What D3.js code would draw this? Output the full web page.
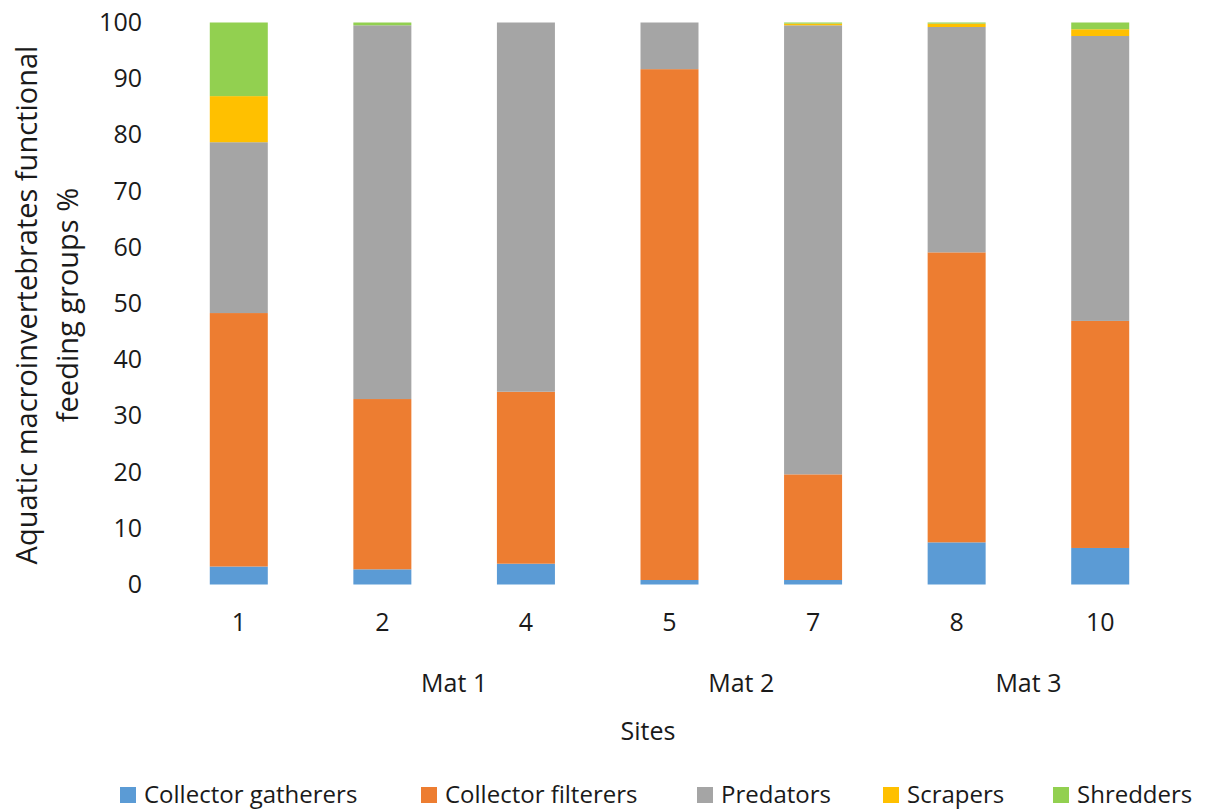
<!DOCTYPE html>
<html>
<head>
<meta charset="utf-8">
<script src="https://cdn.jsdelivr.net/npm/d3@7"></script>
<style>
  html, body { margin: 0; padding: 0; background: #fff; }
  svg { display: block; font-family: "Open Sans", "Noto Sans", sans-serif; }
</style>
</head>
<body>
<svg id="chart" width="1215" height="811"></svg>
<script>
// Sites along the x axis and the mat each site belongs to
const sites = ["1", "2", "4", "5", "7", "8", "10"];
const mats = [
  { name: "Mat 1", sites: ["2", "4"] },
  { name: "Mat 2", sites: ["5", "7"] },
  { name: "Mat 3", sites: ["8", "10"] }
];

// Functional feeding group shares (%) per site
const groups = ["Collector gatherers", "Collector filterers", "Predators", "Scrapers", "Shredders"];
const collectorGatherers = [3.2, 2.7, 3.7, 0.8, 0.8, 7.5, 6.5];
const collectorFilterers = [45.1, 30.3, 30.6, 90.9, 18.8, 51.6, 40.4];
const predators         = [30.4, 66.5, 65.7, 8.3, 79.9, 40.1, 50.7];
const scrapers          = [8.2, 0.0, 0.0, 0.0, 0.3, 0.6, 1.2];
const shredders         = [13.1, 0.5, 0.0, 0.0, 0.2, 0.2, 1.2];
const colors = ["#5B9BD5", "#ED7D31", "#A5A5A5", "#FFC000", "#92D050"];

const yTicks = [0, 10, 20, 30, 40, 50, 60, 70, 80, 90, 100];

const series = [collectorGatherers, collectorFilterers, predators, scrapers, shredders];
const rows = sites.map((s, i) => {
  const r = { site: s };
  groups.forEach((g, k) => { r[g] = series[k][i]; });
  return r;
});

const svg = d3.select("#chart");
const plot = { left: 167, right: 1172, top: 22.5, bottom: 584.5 };
const textColor = "#1a1a1a";

const x = d3.scaleBand().domain(sites).range([plot.left, plot.right]).paddingInner(0.596).paddingOuter(0.298);
const y = d3.scaleLinear().domain([0, 100]).range([plot.bottom, plot.top]);

const stack = d3.stack().keys(groups)(rows);

svg.append("g").selectAll("g")
  .data(stack)
  .join("g")
  .attr("fill", (d, i) => colors[i])
  .selectAll("rect")
  .data(d => d)
  .join("rect")
  .attr("x", d => x(d.data.site))
  .attr("width", x.bandwidth())
  .attr("y", d => y(d[1]))
  .attr("height", d => Math.max(0, y(d[0]) - y(d[1])));

// y axis: labels only
const yAxis = d3.axisLeft(y).tickValues(yTicks).tickSize(0).tickPadding(0);
const yg = svg.append("g").attr("transform", `translate(142,0)`).call(yAxis);
yg.select(".domain").remove();
yg.selectAll("text").attr("font-size", 25).attr("fill", textColor).attr("font-family", "Open Sans");

// x axis: site labels
const xAxis = d3.axisBottom(x).tickSize(0).tickPadding(0);
const xg = svg.append("g").attr("transform", `translate(0,613)`).call(xAxis);
xg.select(".domain").remove();
xg.selectAll("text").attr("font-size", 25).attr("fill", textColor).attr("font-family", "Open Sans");

// mat group labels centred under their sites
svg.append("g").selectAll("text")
  .data(mats)
  .join("text")
  .attr("x", d => d3.mean(d.sites, s => x(s) + x.bandwidth() / 2))
  .attr("y", 692)
  .attr("text-anchor", "middle")
  .attr("font-size", 25)
  .attr("fill", textColor)
  .text(d => d.name);

svg.append("text")
  .attr("x", 648).attr("y", 740)
  .attr("text-anchor", "middle")
  .attr("font-size", 25)
  .attr("fill", textColor)
  .text("Sites");

// y axis title on two lines
const yt = svg.append("text")
  .attr("transform", "translate(0,305) rotate(-90)")
  .attr("text-anchor", "middle")
  .attr("font-size", 29)
  .attr("fill", textColor);
yt.append("tspan").attr("x", 0).attr("y", 37).text("Aquatic macroinvertebrates functional");
yt.append("tspan").attr("x", 0).attr("y", 78).text("feeding groups %");

// legend along the bottom edge
const legendX = [120, 421, 697, 883, 1053];
const lg = svg.append("g").selectAll("g")
  .data(groups)
  .join("g")
  .attr("transform", (d, i) => `translate(${legendX[i]},787)`);
lg.append("rect").attr("width", 16).attr("height", 16).attr("fill", (d, i) => colors[i]);
lg.append("text").attr("x", 24).attr("y", 16).attr("font-size", 24).attr("fill", textColor).text(d => d);
</script>
</body>
</html>
